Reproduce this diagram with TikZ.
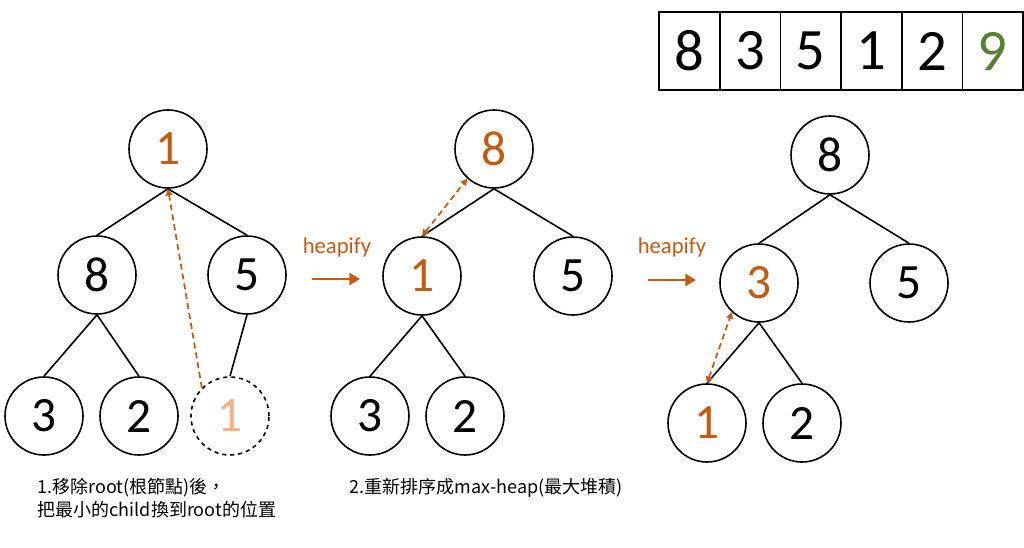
\documentclass[tikz,border=0pt]{standalone}
\usepackage{fontspec}
\setmainfont{Carlito}
\newfontfamily\cjk{Noto Sans CJK TC}
\usepackage{tikz}
\usetikzlibrary{arrows.meta,positioning}
\usepackage{xcolor}
\definecolor{heaporange}{RGB}{197,90,17}
\definecolor{heaplight}{RGB}{244,177,131}
\definecolor{heapgreen}{RGB}{84,130,53}

\begin{document}
\begin{tikzpicture}[x=0.75pt, y=-0.75pt,
  heapnode/.style={circle, draw, line width=1.2pt, minimum size=58.5pt, inner sep=0pt,
    font=\fontsize{37}{37}\selectfont},
  cell/.style={draw, line width=1.1pt, minimum width=45.5pt, minimum height=58.5pt,
    inner sep=0pt, outer sep=0pt, font=\fontsize{44}{44}\selectfont},
  hot/.style={text=heaporange},
  link/.style={line width=1.2pt},
  swap/.style={heaporange, line width=1.3pt, dash pattern=on 4.5pt off 3pt,
    >={Triangle[length=5pt,width=5pt]}},
  step arrow/.style={heaporange, line width=2.2pt, -{Triangle[length=8pt,width=9pt]}},
  caption/.style={font=\cjk\fontsize{13.5}{17.5}\selectfont, align=left, anchor=west}]
  \useasboundingbox (0,0) rectangle (1024,547);

  % array
  \node[cell] (a1) at (689.5,51) {8};
  \node[cell, right=0pt of a1] (a2) {3};
  \node[cell, right=0pt of a2] (a3) {5};
  \node[cell, right=0pt of a3] (a4) {1};
  \node[cell, right=0pt of a4] (a5) {2};
  \node[cell, right=0pt of a5, text=heapgreen] (a6) {9};

  % tree 1: root removed
  \node[heapnode, hot] (r1) at (168,149) {1};
  \node[heapnode] (r8) at (97,275) {8};
  \node[heapnode] (r5) at (247,275) {5};
  \node[heapnode] (r3) at (44,416) {3};
  \node[heapnode] (r2) at (139,416) {2};
  \node[heapnode, dashed, text=heaplight] (rx) at (230,416) {1};
  \draw[link] (r1.south) -- (r8.north);
  \draw[link] (r1.south) -- (r5.north);
  \draw[link] (r8.south) -- (r3.north);
  \draw[link] (r8.south) -- (r2.north);
  \draw[link] (r5.south) -- (rx.north);
  \draw[swap, ->] (rx.135) -- (r1.south);

  \node[text=heaporange, font=\fontsize{17}{17}\selectfont] (h1) at (337,247) {heapify};
  \coordinate (h1s) at (312,279);
  \coordinate (h1e) at (360,279);
  \draw[step arrow] (h1s) -- (h1e);

  % tree 2: first swap
  \node[heapnode, hot] (m8) at (494,149) {8};
  \node[heapnode, hot] (m1) at (422,276) {1};
  \node[heapnode] (m5) at (573,276) {5};
  \node[heapnode] (m3) at (370,416) {3};
  \node[heapnode] (m2) at (465,416) {2};
  \draw[link] (m8.south) -- (m1.north);
  \draw[link] (m8.south) -- (m5.north);
  \draw[link] (m1.south) -- (m3.north);
  \draw[link] (m1.south) -- (m2.north);
  \draw[swap, <->] (m1.north) -- (m8.228);

  \node[text=heaporange, font=\fontsize{17}{17}\selectfont] (h2) at (672,247) {heapify};
  \coordinate (h2s) at (648,280);
  \coordinate (h2e) at (696,280);
  \draw[step arrow] (h2s) -- (h2e);

  % tree 3: second swap
  \node[heapnode] (n8) at (830,155) {8};
  \node[heapnode, hot] (n3) at (759,283) {3};
  \node[heapnode] (n5) at (909,283) {5};
  \node[heapnode, hot] (n1) at (707,423) {1};
  \node[heapnode] (n2) at (802,423) {2};
  \draw[link] (n8.south) -- (n3.north);
  \draw[link] (n8.south) -- (n5.north);
  \draw[link] (n3.south) -- (n1.north);
  \draw[link] (n3.south) -- (n2.north);
  \draw[swap, <->] (n1.north) -- (n3.227);

  % captions
  \node[caption] (c1) at (33,498) {1.移除root(根節點)後，\\把最小的child換到root的位置};
  \node[caption] (c2) at (345,488) {2.重新排序成max-heap(最大堆積)};
\end{tikzpicture}
\end{document}
